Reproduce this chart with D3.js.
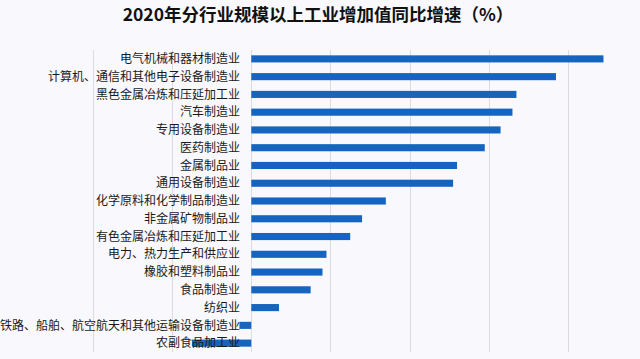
<!DOCTYPE html>
<html><head><meta charset="utf-8">
<script src="https://cdn.jsdelivr.net/npm/d3@7"></script>
<style>
html,body{margin:0;padding:0;background:#f9f8fc;}
svg{display:block;}
</style></head>
<body>
<svg id="chart" width="640" height="359"></svg>
<script>
const title = "2020年分行业规模以上工业增加值同比增速（%）";
const categories = [
  "电气机械和器材制造业",
  "计算机、通信和其他电子设备制造业",
  "黑色金属冶炼和压延加工业",
  "汽车制造业",
  "专用设备制造业",
  "医药制造业",
  "金属制品业",
  "通用设备制造业",
  "化学原料和化学制品制造业",
  "非金属矿物制品业",
  "有色金属冶炼和压延加工业",
  "电力、热力生产和供应业",
  "橡胶和塑料制品业",
  "食品制造业",
  "纺织业",
  "铁路、船舶、航空航天和其他运输设备制造业",
  "农副食品加工业"
];
const values = [8.9, 7.7, 6.7, 6.6, 6.3, 5.9, 5.2, 5.1, 3.4, 2.8, 2.5, 1.9, 1.8, 1.5, 0.7, -0.3, -1.5];
const xTicks = [-4, -2, 0, 2, 4, 6, 8, 10];

const svg = d3.select("#chart");
const plot = {left: 93, right: 647, top: 50, bottom: 352};

const x = d3.scaleLinear().domain([-4, 10]).range([plot.left, plot.right]);
const y = d3.scaleBand().domain(categories).range([plot.top, plot.bottom]).paddingInner(0.6).paddingOuter(0.3);

// gridlines
svg.append("g").selectAll("line").data(xTicks).join("line")
  .attr("x1", d => Math.round(x(d)) + 0.5).attr("x2", d => Math.round(x(d)) + 0.5)
  .attr("y1", plot.top).attr("y2", plot.bottom)
  .attr("stroke", "#dcdbe0").attr("stroke-width", 1);

// bars
svg.append("g").selectAll("rect").data(values).join("rect")
  .attr("x", d => x(Math.min(0, d)))
  .attr("y", (d, i) => y(categories[i]))
  .attr("width", d => Math.abs(x(d) - x(0)))
  .attr("height", y.bandwidth())
  .attr("fill", "#1565c0");

// labels
svg.append("g").selectAll("text").data(categories).join("text")
  .attr("x", 240)
  .attr("y", d => y(d) + y.bandwidth() / 2)
  .attr("dy", "0.35em")
  .attr("text-anchor", "end")
  .attr("font-family", "'Noto Sans CJK SC', sans-serif")
  .attr("font-size", 12)
  .attr("fill", "#1a1a1a")
  .text(d => d);

// title
svg.append("text")
  .attr("x", 318).attr("y", 21)
  .attr("text-anchor", "middle")
  .attr("font-family", "'Noto Sans CJK SC', sans-serif")
  .attr("font-size", 17.5)
  .attr("font-weight", 600)
  .attr("fill", "#111")
  .text(title);
</script>
</body></html>
